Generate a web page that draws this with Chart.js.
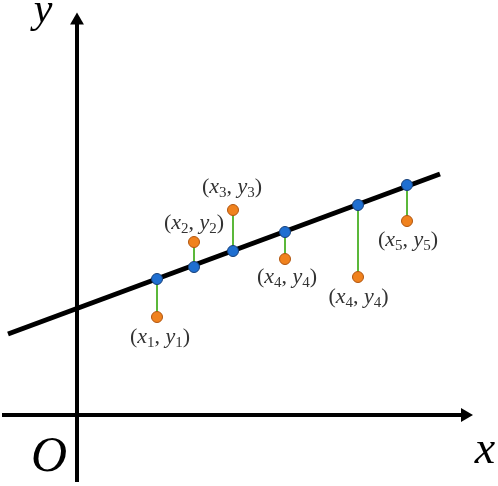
<!DOCTYPE html>
<html>
<head>
<meta charset="utf-8">
<script src="https://cdn.jsdelivr.net/npm/chart.js@4.4.0/dist/chart.umd.min.js"></script>
<style>
  body { margin: 0; background: #fff; }
  #wrap { width: 498px; height: 486px; }
</style>
</head>
<body>
<div id="wrap"><canvas id="myChart" width="498" height="486"></canvas></div>
<script>
const ctx = document.getElementById('myChart').getContext('2d');

// sample x positions
const xs = [8.0, 11.7, 15.6, 20.8, 28.1, 33.0];
// fitted values (on the line) and observed values
const fittedY = [13.6, 14.8, 16.4, 18.3, 21.0, 23.0];
const observedY = [9.8, 17.3, 20.5, 15.6, 13.8, 19.4];
// regression line end points
const lineX = [-6.9, 36.3];
const lineY = [8.1, 24.1];
// label texts (subscript index) and where they sit
const labelIdx = ['1', '2', '3', '4', '4', '5'];
const labelX = [8.3, 11.7, 15.5, 21.0, 28.15, 33.1];
const labelY = [7.75, 19.2, 22.8, 13.8, 11.75, 17.5];
// axes
const xAxisX = [-7.5, 38.8];
const yAxisY = [-6.7, 39.45];

const residuals = xs.map((x, i) => ({
  type: 'line',
  data: [{ x: x, y: fittedY[i] }, { x: x, y: observedY[i] }],
  borderColor: '#5bb83a',
  borderWidth: 2,
  pointRadius: 0,
  order: 3,
}));

const serif = '"Liberation Serif", "DejaVu Serif", serif';

const textPlugin = {
  id: 'textPlugin',
  afterDatasetsDraw(chart) {
    const c = chart.ctx;
    const sx = chart.scales.x;
    const sy = chart.scales.y;
    c.save();
    c.textBaseline = 'middle';
    labelIdx.forEach((n, i) => {
      const parts = [
        ['(', 'normal 22px ' + serif, 0],
        ['x', 'italic 22px ' + serif, 0],
        [n, 'normal 15px ' + serif, 6],
        [', ', 'normal 22px ' + serif, 0],
        ['y', 'italic 22px ' + serif, 0],
        [n, 'normal 15px ' + serif, 6],
        [')', 'normal 22px ' + serif, 0],
      ];
      let w = 0;
      parts.forEach(p => { c.font = p[1]; w += c.measureText(p[0]).width; });
      let px = sx.getPixelForValue(labelX[i]) - w / 2;
      const py = sy.getPixelForValue(labelY[i]);
      c.fillStyle = '#333';
      c.textAlign = 'left';
      parts.forEach(p => {
        c.font = p[1];
        c.fillText(p[0], px, py + p[2]);
        px += c.measureText(p[0]).width;
      });
    });
    // axis names
    c.fillStyle = '#000';
    c.textAlign = 'center';
    c.textBaseline = 'alphabetic';
    c.font = 'italic 42px ' + serif;
    c.fillText('y', sx.getPixelForValue(-3.4), sy.getPixelForValue(39.3));
    c.font = 'italic 46px ' + serif;
    c.fillText('x', sx.getPixelForValue(40.8), sy.getPixelForValue(-4.8));
    c.font = 'italic 50px ' + serif;
    c.fillText('O', sx.getPixelForValue(-2.8), sy.getPixelForValue(-5.6));
    c.restore();
  },
};

const myChart = new Chart(ctx, {
  type: 'scatter',
  data: {
    datasets: [
      {
        label: 'fitted',
        data: xs.map((x, i) => ({ x: x, y: fittedY[i] })),
        backgroundColor: '#1f6fd1',
        borderColor: '#163f78',
        borderWidth: 1,
        pointRadius: 5.5,
        order: 0,
      },
      {
        label: 'observed',
        data: xs.map((x, i) => ({ x: x, y: observedY[i] })),
        backgroundColor: '#f0821e',
        borderColor: '#b0550f',
        borderWidth: 1,
        pointRadius: 5.5,
        order: 1,
      },
      {
        type: 'line',
        label: 'regression',
        data: lineX.map((x, i) => ({ x: x, y: lineY[i] })),
        borderColor: '#000',
        borderWidth: 5,
        pointRadius: 0,
        order: 2,
      },
      ...residuals,
      {
        type: 'line',
        label: 'x axis',
        data: xAxisX.map(x => ({ x: x, y: 0 })),
        borderColor: '#000',
        borderWidth: 4,
        pointStyle: 'triangle',
        pointRadius: [0, 8],
        pointRotation: [0, 90],
        pointBackgroundColor: '#000',
        pointBorderWidth: 0,
        order: 4,
      },
      {
        type: 'line',
        label: 'y axis',
        data: yAxisY.map(y => ({ x: 0, y: y })),
        borderColor: '#000',
        borderWidth: 4,
        pointStyle: 'triangle',
        pointRadius: [0, 8],
        pointRotation: [0, 0],
        pointBackgroundColor: '#000',
        pointBorderWidth: 0,
        order: 4,
      },
    ],
  },
  options: {
    responsive: false,
    animation: false,
    layout: { padding: 0, autoPadding: false },
    plugins: {
      legend: { display: false },
      tooltip: { enabled: false },
    },
    scales: {
      x: { type: 'linear', min: -7.7, max: 42.1, display: false },
      y: { type: 'linear', min: -7.1, max: 41.5, display: false },
    },
  },
  plugins: [textPlugin],
});
</script>
</body>
</html>
